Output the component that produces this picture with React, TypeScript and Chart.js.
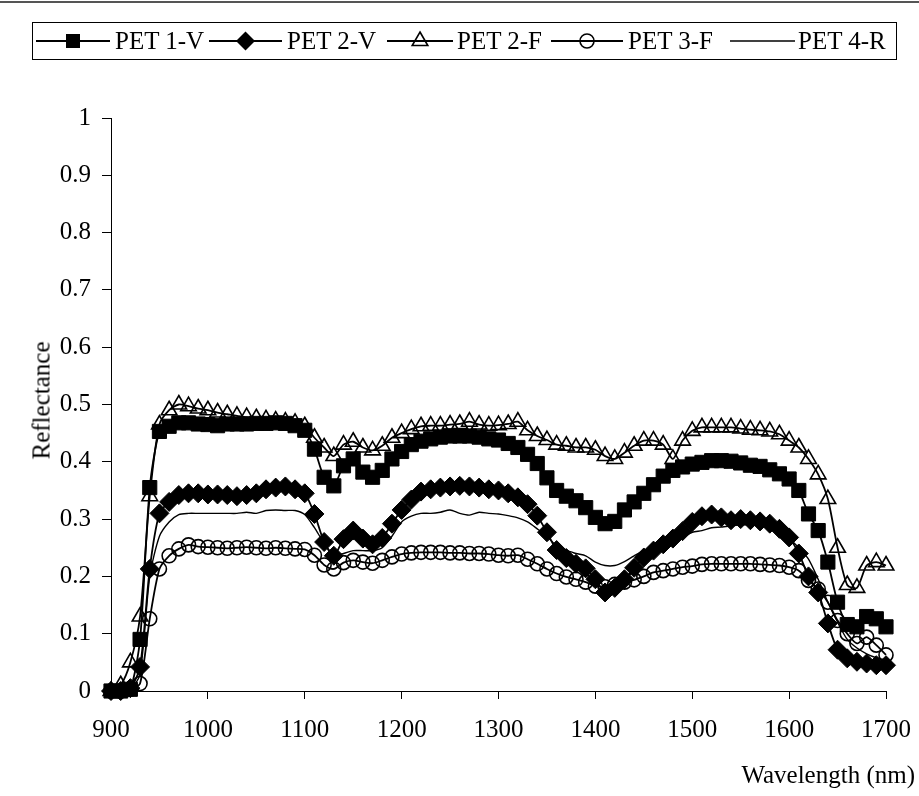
import React, { useEffect, useRef } from 'react';
import { Chart, registerables } from 'chart.js';

Chart.register(...registerables);

// ---------- DATA ----------
const wavelengths = [
  900, 910, 920, 930, 940, 950, 960, 970, 980, 990,
  1000, 1010, 1020, 1030, 1040, 1050, 1060, 1070, 1080, 1090,
  1100, 1110, 1120, 1130, 1140, 1150, 1160, 1170, 1180, 1190,
  1200, 1210, 1220, 1230, 1240, 1250, 1260, 1270, 1280, 1290,
  1300, 1310, 1320, 1330, 1340, 1350, 1360, 1370, 1380, 1390,
  1400, 1410, 1420, 1430, 1440, 1450, 1460, 1470, 1480, 1490,
  1500, 1510, 1520, 1530, 1540, 1550, 1560, 1570, 1580, 1590,
  1600, 1610, 1620, 1630, 1640, 1650, 1660, 1670, 1680, 1690,
  1700,
];

const pet1V = [
  0, 0, 0.003, 0.09, 0.355, 0.453, 0.462, 0.468, 0.468, 0.466,
  0.465, 0.463, 0.466, 0.466, 0.466, 0.467, 0.467, 0.468, 0.467, 0.463,
  0.455, 0.422, 0.373, 0.358, 0.393, 0.405, 0.382, 0.373, 0.385, 0.405,
  0.418, 0.43, 0.436, 0.44, 0.443, 0.445, 0.445, 0.445, 0.443, 0.44,
  0.438, 0.432, 0.425, 0.413, 0.397, 0.372, 0.35, 0.34, 0.332, 0.32,
  0.303, 0.292, 0.296, 0.316, 0.33, 0.345, 0.36, 0.375, 0.385, 0.391,
  0.396, 0.399, 0.402, 0.402, 0.401, 0.398, 0.394, 0.392, 0.386, 0.379,
  0.37, 0.35, 0.309, 0.28, 0.225, 0.155, 0.116, 0.112, 0.13, 0.126,
  0.112,
];

const pet2V = [
  0, 0, 0.005, 0.042, 0.213, 0.31, 0.33, 0.342, 0.345, 0.345,
  0.343, 0.343, 0.342, 0.34, 0.342, 0.345, 0.352, 0.355, 0.357, 0.352,
  0.345, 0.309, 0.26, 0.236, 0.265, 0.28, 0.266, 0.256, 0.267, 0.292,
  0.316, 0.334, 0.348, 0.352, 0.355, 0.357, 0.358, 0.357, 0.355, 0.352,
  0.35, 0.345, 0.338, 0.326, 0.306, 0.277, 0.246, 0.232, 0.222, 0.214,
  0.195, 0.172, 0.18, 0.195, 0.215, 0.233, 0.245, 0.256, 0.266, 0.279,
  0.295, 0.305, 0.308, 0.303, 0.298, 0.3, 0.298, 0.296, 0.292, 0.283,
  0.268, 0.24, 0.2, 0.172, 0.118, 0.072, 0.057, 0.051, 0.048, 0.045,
  0.045,
];

const pet2F = [
  0, 0.01, 0.05, 0.13, 0.34, 0.465, 0.49, 0.5, 0.497, 0.493,
  0.49, 0.486, 0.483, 0.48, 0.478, 0.476, 0.474, 0.472, 0.47, 0.468,
  0.462, 0.442, 0.425, 0.41, 0.43, 0.435, 0.425, 0.42, 0.428, 0.442,
  0.45, 0.457, 0.462, 0.463, 0.463, 0.465, 0.466, 0.47, 0.465, 0.463,
  0.464, 0.466, 0.47, 0.455, 0.445, 0.438, 0.43, 0.428, 0.425, 0.425,
  0.421, 0.41, 0.405, 0.416, 0.428, 0.437, 0.437, 0.43, 0.405, 0.437,
  0.454, 0.46, 0.46, 0.46, 0.46, 0.458, 0.456, 0.455, 0.453, 0.448,
  0.437, 0.425, 0.405, 0.378, 0.335, 0.25, 0.185, 0.18, 0.219, 0.225,
  0.219,
];

const pet3F = [
  0, 0, 0.003, 0.013, 0.126, 0.213, 0.236, 0.248, 0.255, 0.252,
  0.251, 0.25, 0.249, 0.25, 0.251, 0.25, 0.249, 0.25, 0.249, 0.248,
  0.247, 0.237, 0.22, 0.213, 0.224, 0.228, 0.225, 0.223, 0.228, 0.234,
  0.239, 0.241, 0.242, 0.242, 0.242, 0.241, 0.241, 0.24, 0.24, 0.239,
  0.237, 0.236, 0.237, 0.23, 0.222, 0.213, 0.205, 0.199, 0.195, 0.19,
  0.183, 0.182, 0.186, 0.19, 0.194, 0.2, 0.207, 0.21, 0.213, 0.216,
  0.218, 0.221, 0.222, 0.222, 0.222, 0.222, 0.222, 0.221, 0.22, 0.219,
  0.216, 0.21, 0.193, 0.178, 0.155, 0.123, 0.1, 0.083, 0.094, 0.08,
  0.063,
];

const pet4R = [
  0, 0, 0.002, 0.03, 0.2, 0.27, 0.295, 0.308, 0.31, 0.31,
  0.31, 0.31, 0.31, 0.31, 0.312, 0.31, 0.315, 0.316, 0.315, 0.315,
  0.308, 0.285, 0.258, 0.238, 0.24, 0.245, 0.245, 0.245, 0.25, 0.27,
  0.295, 0.305, 0.31, 0.31, 0.312, 0.316, 0.31, 0.307, 0.312, 0.31,
  0.309, 0.306, 0.302, 0.295, 0.283, 0.27, 0.253, 0.246, 0.24, 0.236,
  0.225, 0.219, 0.219, 0.226, 0.236, 0.245, 0.251, 0.256, 0.261, 0.268,
  0.277, 0.28, 0.285, 0.286, 0.288, 0.29, 0.29, 0.288, 0.285, 0.278,
  0.266, 0.25, 0.23, 0.195, 0.155, 0.12, 0.09, 0.075, 0.065, 0.058,
  0.054,
];

const seriesNames = ['PET 1-V', 'PET 2-V', 'PET 2-F', 'PET 3-F', 'PET 4-R'];
const yTickLabels = ['0', '0.1', '0.2', '0.3', '0.4', '0.5', '0.6', '0.7', '0.8', '0.9', '1'];
const xTickLabels = ['900', '1000', '1100', '1200', '1300', '1400', '1500', '1600', '1700'];
const xAxisTitle = 'Wavelength (nm)';
const yAxisTitle = 'Reflectance';

// ---------- STYLE ----------
const FONT = '"Liberation Serif", "Times New Roman", serif';
const W = 919;
const H = 796;

const toPoints = (vals: number[]) => wavelengths.map((w, i) => ({ x: w, y: vals[i] }));

type LegendItem = { name: string; kind: string; iconLeft: number; iconWidth: number; textLeft: number };
const legendItems: LegendItem[] = [
  { name: seriesNames[0], kind: 'square', iconLeft: 36, iconWidth: 74, textLeft: 115 },
  { name: seriesNames[1], kind: 'diamond', iconLeft: 209, iconWidth: 73, textLeft: 287 },
  { name: seriesNames[2], kind: 'triangle', iconLeft: 387, iconWidth: 66, textLeft: 457 },
  { name: seriesNames[3], kind: 'circle', iconLeft: 551, iconWidth: 72, textLeft: 628 },
  { name: seriesNames[4], kind: 'line', iconLeft: 730, iconWidth: 65, textLeft: 798 },
];

function LegendIcon({ kind, width }: { kind: string; width: number }) {
  const cx = width / 2;
  const cy = 11;
  let marker: React.ReactNode = null;
  if (kind === 'square') marker = <rect x={cx - 7} y={cy - 7} width={14} height={14} fill="#000" />;
  if (kind === 'diamond')
    marker = <polygon points={`${cx},${cy - 9.5} ${cx + 9.5},${cy} ${cx},${cy + 9.5} ${cx - 9.5},${cy}`} fill="#000" />;
  if (kind === 'triangle')
    marker = (
      <polygon
        points={`${cx},${cy - 9} ${cx + 7.8},${cy + 4.5} ${cx - 7.8},${cy + 4.5}`}
        fill="none"
        stroke="#000"
        strokeWidth={1.6}
      />
    );
  if (kind === 'circle') marker = <circle cx={cx} cy={cy} r={7} fill="none" stroke="#000" strokeWidth={1.6} />;
  return (
    <svg width={width} height={22} style={{ display: 'block' }}>
      <line x1={0} y1={cy} x2={width} y2={cy} stroke="#000" strokeWidth={kind === 'line' ? 1.4 : 1.8} />
      {marker}
    </svg>
  );
}

export default function App() {
  const canvasRef = useRef<HTMLCanvasElement | null>(null);

  useEffect(() => {
    const canvas = canvasRef.current;
    if (!canvas) return;
    const tickFont = { family: FONT, size: 25 };
    const chart = new Chart(canvas, {
      type: 'line',
      data: {
        datasets: [
          {
            label: seriesNames[0],
            data: toPoints(pet1V),
            borderColor: '#000',
            borderWidth: 1.8,
            pointStyle: 'rect',
            pointRadius: 10,
            pointBackgroundColor: '#000',
            pointBorderColor: '#000',
            pointBorderWidth: 1,
            tension: 0.25,
            clip: false,
            order: 5,
          },
          {
            label: seriesNames[1],
            data: toPoints(pet2V),
            borderColor: '#000',
            borderWidth: 1.8,
            pointStyle: 'rectRot',
            pointRadius: 9.5,
            pointBackgroundColor: '#000',
            pointBorderColor: '#000',
            pointBorderWidth: 1,
            tension: 0.25,
            clip: false,
            order: 4,
          },
          {
            label: seriesNames[2],
            data: toPoints(pet2F),
            borderColor: '#000',
            borderWidth: 1.8,
            pointStyle: 'triangle',
            pointRadius: 9,
            pointBackgroundColor: 'rgba(0,0,0,0)',
            pointBorderColor: '#000',
            pointBorderWidth: 1.6,
            tension: 0.25,
            clip: false,
            order: 3,
          },
          {
            label: seriesNames[3],
            data: toPoints(pet3F),
            borderColor: '#000',
            borderWidth: 1.8,
            pointStyle: 'circle',
            pointRadius: 7,
            pointBackgroundColor: 'rgba(0,0,0,0)',
            pointBorderColor: '#000',
            pointBorderWidth: 1.6,
            tension: 0.25,
            clip: false,
            order: 2,
          },
          {
            label: seriesNames[4],
            data: toPoints(pet4R),
            borderColor: '#000',
            borderWidth: 1.4,
            pointRadius: 0,
            tension: 0.25,
            clip: false,
            order: 1,
          },
        ],
      },
      options: {
        animation: false,
        responsive: false,
        devicePixelRatio: 1,
        events: [],
        layout: { padding: { top: 118, right: 33, left: 0, bottom: 0 } },
        plugins: { legend: { display: false }, tooltip: { enabled: false }, title: { display: false } },
        scales: {
          x: {
            type: 'linear',
            min: 900,
            max: 1700,
            ticks: {
              stepSize: 100,
              autoSkip: false,
              maxRotation: 0,
              color: '#000',
              font: tickFont,
              padding: 16,
              callback: (v: any) => xTickLabels[Math.round((Number(v) - 900) / 100)],
            },
            grid: { drawOnChartArea: false, drawTicks: true, tickLength: 8, tickColor: '#000', tickWidth: 1 },
            border: { display: true, color: '#000', width: 1 },
            afterFit: (s: any) => {
              s.height = 105;
              s.paddingLeft = 0;
              s.paddingRight = 0;
            },
          },
          y: {
            type: 'linear',
            min: 0,
            max: 1,
            ticks: {
              stepSize: 0.1,
              autoSkip: false,
              color: '#000',
              font: tickFont,
              padding: 11,
              callback: (v: any) => yTickLabels[Math.round(Number(v) * 10)],
            },
            grid: { drawOnChartArea: false, drawTicks: true, tickLength: 9, tickColor: '#000', tickWidth: 1 },
            border: { display: true, color: '#000', width: 1 },
            afterFit: (s: any) => {
              s.width = 111;
            },
          },
        },
      },
    } as any);
    return () => chart.destroy();
  }, []);

  return (
    <div
      style={{
        position: 'absolute',
        left: 0,
        top: 0,
        width: W,
        height: H,
        background: '#fff',
        overflow: 'hidden',
        fontFamily: FONT,
        color: '#000',
      }}
    >
      <div style={{ position: 'absolute', left: 0, top: 1, width: W, height: 0, borderTop: '2px solid #555' }} />
      <canvas ref={canvasRef} width={W} height={H} style={{ position: 'absolute', left: 0, top: 0, display: 'block' }} />
      <div
        style={{
          position: 'absolute',
          left: 32,
          top: 22,
          width: 865,
          height: 38,
          border: '1px solid #000',
          boxSizing: 'border-box',
        }}
      />
      {legendItems.map((it) => (
        <React.Fragment key={it.name}>
          <div style={{ position: 'absolute', left: it.iconLeft, top: 30 }}>
            <LegendIcon kind={it.kind} width={it.iconWidth} />
          </div>
          <div
            style={{
              position: 'absolute',
              left: it.textLeft,
              top: 28,
              fontSize: 25,
              lineHeight: '25px',
              whiteSpace: 'nowrap',
            }}
          >
            {it.name}
          </div>
        </React.Fragment>
      ))}
      <div
        style={{
          position: 'absolute',
          left: 41 - 100,
          top: 400 - 12.5,
          width: 200,
          height: 25,
          fontSize: 25,
          lineHeight: '25px',
          textAlign: 'center',
          transform: 'rotate(-90deg)',
          transformOrigin: '50% 50%',
          whiteSpace: 'nowrap',
        }}
      >
        {yAxisTitle}
      </div>
      <div
        style={{
          position: 'absolute',
          right: 4,
          top: 762,
          fontSize: 25,
          lineHeight: '25px',
          textAlign: 'right',
          whiteSpace: 'nowrap',
        }}
      >
        {xAxisTitle}
      </div>
    </div>
  );
}
